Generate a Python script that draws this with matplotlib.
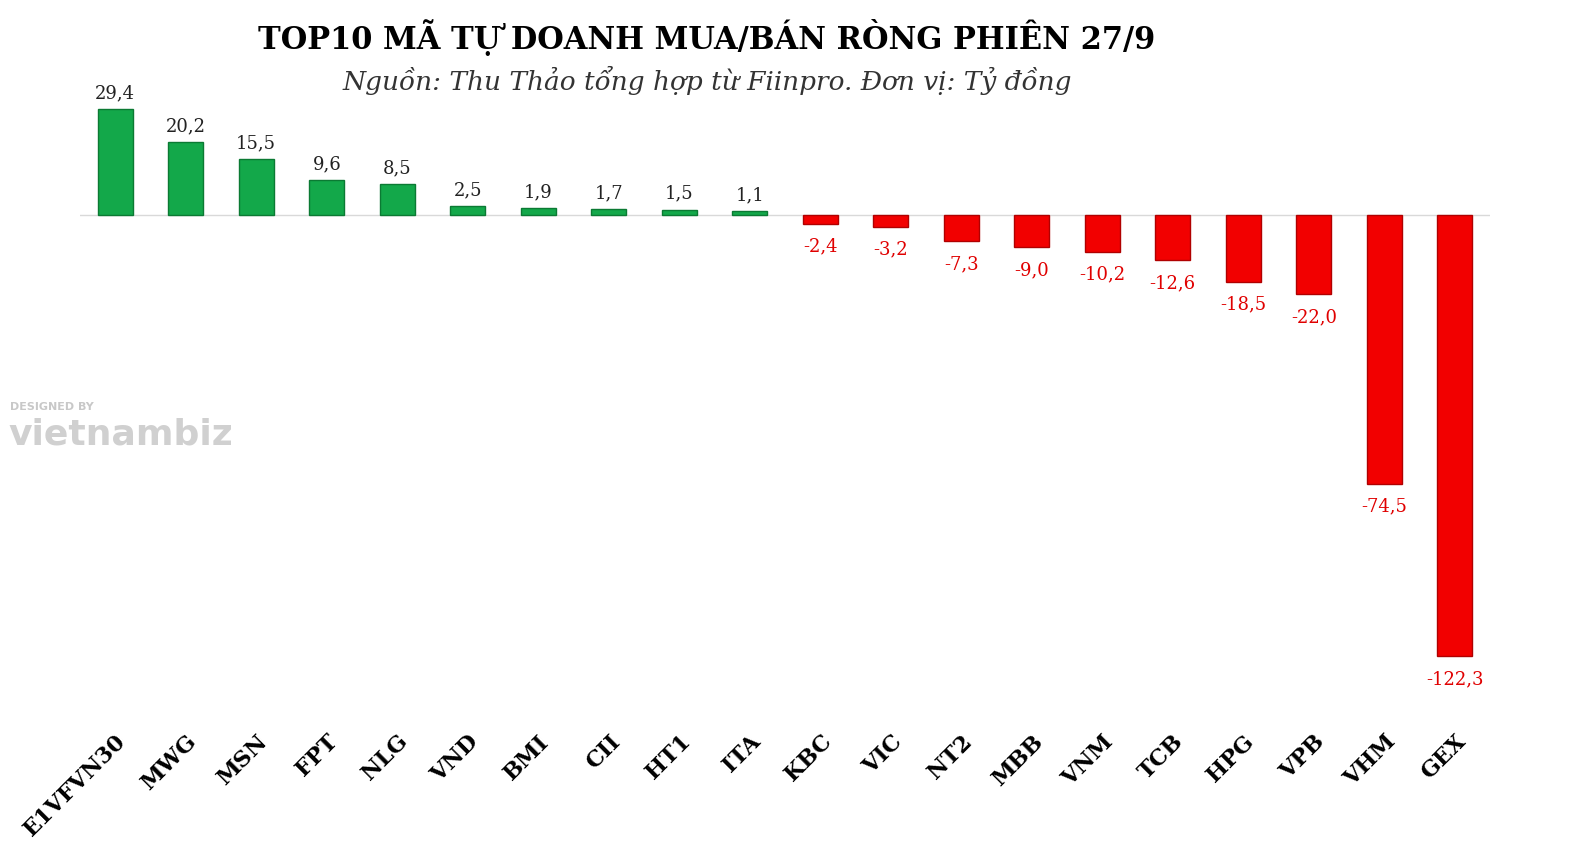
import matplotlib
matplotlib.use("Agg")
import matplotlib.pyplot as plt

categories = ["E1VFVN30","MWG","MSN","FPT","NLG","VND","BMI","CII","HT1","ITA",
              "KBC","VIC","NT2","MBB","VNM","TCB","HPG","VPB","VHM","GEX"]
values = [29.4,20.2,15.5,9.6,8.5,2.5,1.9,1.7,1.5,1.1,
          -2.4,-3.2,-7.3,-9.0,-10.2,-12.6,-18.5,-22.0,-74.5,-122.3]
title = "TOP10 MÃ TỰ DOANH MUA/BÁN RÒNG PHIÊN 27/9"
subtitle = "Nguồn: Thu Thảo tổng hợp từ Fiinpro. Đơn vị: Tỷ đồng"

W, H = 1572, 850
fig = plt.figure(figsize=(W/100, H/100), dpi=100)
ax = fig.add_axes([80/W, 1-700/H, 1410/W, 600/H])
ax.set_xlim(-0.5, 19.5)
ax.set_ylim(-134.5, 31.9)

x = range(len(categories))
colors = ["#13a84a" if v >= 0 else "#f20000" for v in values]
edges = ["#0b7a33" if v >= 0 else "#b00000" for v in values]
ax.bar(x, values, width=0.5, color=colors, edgecolor=edges, linewidth=1, zorder=2)
ax.axhline(0, color="#d9d9d9", lw=1, zorder=1)

for i, v in enumerate(values):
    s = f"{v:.1f}".replace(".", ",")
    if v >= 0:
        ax.annotate(s, (i, v), xytext=(0, 5), textcoords="offset points",
                    ha="center", va="bottom", fontsize=13, family="DejaVu Serif", color="#222222")
    else:
        ax.annotate(s, (i, v), xytext=(0, -10), textcoords="offset points",
                    ha="center", va="top", fontsize=13, family="DejaVu Serif", color="#e00000")

ax.set_xticks(list(x))
ax.set_xticklabels(categories, rotation=45, ha="right", rotation_mode="anchor",
                   fontsize=16, fontweight="bold", family="DejaVu Serif")
ax.tick_params(axis="x", length=0, pad=22)
ax.set_yticks([])
for sp in ax.spines.values():
    sp.set_visible(False)

fig.text(707/W, 1-38/H, title, ha="center", va="center", fontsize=22,
         fontweight="bold", family="DejaVu Serif")
fig.text(707/W, 1-80/H, subtitle, ha="center", va="center", fontsize=19,
         style="italic", family="DejaVu Serif", color="#333333")

fig.text(10/W, 1-407/H, "DESIGNED BY", fontsize=8, color="#c8c8c8", fontweight="bold", va="center")
fig.text(8/W, 1-435/H, "vietnambiz", fontsize=26, color="#d0d0d0", fontweight="bold", va="center")

fig.savefig("out.png", dpi=100)
